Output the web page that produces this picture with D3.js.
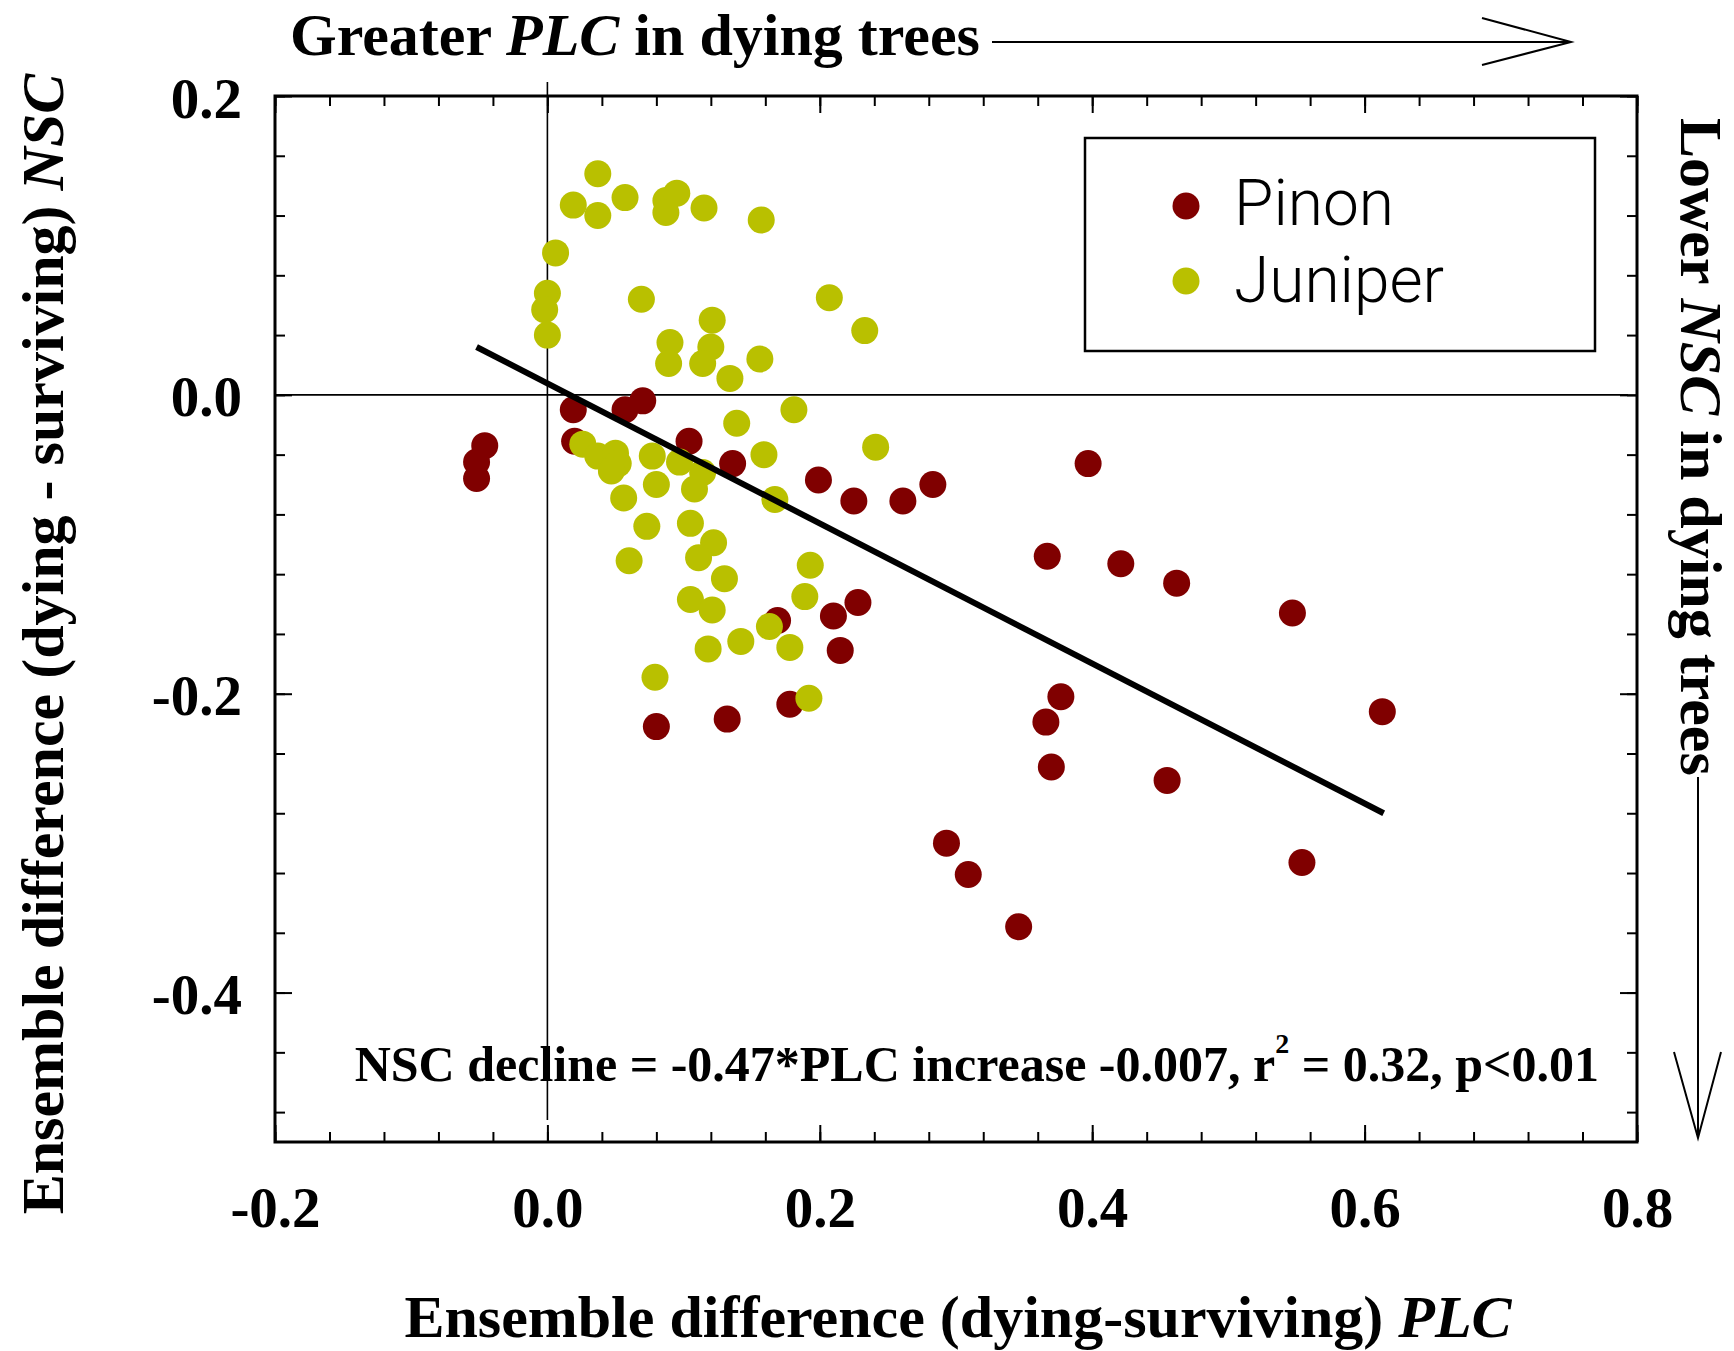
<!DOCTYPE html>
<html>
<head>
<meta charset="utf-8">
<script src="https://cdn.jsdelivr.net/npm/d3@7"></script>
<style>
  body { margin: 0; background: #fff; }
  svg { display: block; }
  .serif { font-family: 'Liberation Serif', 'Times New Roman', serif; font-weight: bold; }
</style>
</head>
<body>
<div id="chart"></div>
<script>
'use strict';

// data
const pinon_x = [-0.046, -0.052, -0.052, 0.019, 0.070, 0.057, 0.020, 0.104, 0.136, 0.199,
                 0.225, 0.261, 0.283, 0.397, 0.367, 0.421, 0.462, 0.547, 0.613, 0.228,
                 0.210, 0.169, 0.215, 0.178, 0.080, 0.132, 0.377, 0.366, 0.370, 0.455,
                 0.293, 0.309, 0.346, 0.554];
const pinon_y = [-0.034, -0.045, -0.056, -0.010, -0.004, -0.010, -0.031, -0.031, -0.046, -0.057,
                 -0.071, -0.071, -0.060, -0.046, -0.108, -0.113, -0.126, -0.146, -0.212, -0.139,
                 -0.148, -0.151, -0.171, -0.207, -0.222, -0.217, -0.202, -0.219, -0.249, -0.258,
                 -0.300, -0.321, -0.356, -0.313];

const juniper_x = [0.037, 0.019, 0.037, 0.057, 0.087, 0.095, 0.087, 0.115, 0.157, 0.006,
                   0.000, -0.002, 0.000, 0.069, 0.121, 0.207, 0.233, 0.090, 0.089, 0.120,
                   0.114, 0.156, 0.134, 0.181, 0.139, 0.241, 0.026, 0.037, 0.050, 0.052,
                   0.047, 0.077, 0.097, 0.114, 0.159, 0.080, 0.108, 0.056, 0.167, 0.073,
                   0.105, 0.060, 0.122, 0.111, 0.193, 0.130, 0.105, 0.121, 0.189, 0.163,
                   0.142, 0.118, 0.178, 0.079, 0.192];
const juniper_y = [0.148, 0.127, 0.120, 0.132, 0.130, 0.135, 0.122, 0.125, 0.117, 0.095,
                   0.068, 0.057, 0.040, 0.064, 0.050, 0.065, 0.043, 0.035, 0.021, 0.032,
                   0.021, 0.024, 0.011, -0.010, -0.019, -0.035, -0.033, -0.041, -0.039, -0.046,
                   -0.051, -0.041, -0.045, -0.052, -0.040, -0.060, -0.063, -0.069, -0.070, -0.088,
                   -0.086, -0.111, -0.099, -0.109, -0.114, -0.123, -0.137, -0.144, -0.135, -0.155,
                   -0.165, -0.170, -0.169, -0.189, -0.203];

// fitted line ends
const fit_x = [-0.052, 0.614];
const fit_y = [0.032, -0.280];

const x_major = [-0.2, 0.0, 0.2, 0.4, 0.6, 0.8];
const y_major = [0.2, 0.0, -0.2, -0.4];
const x_minor = d3.range(-0.2, 0.8001, 0.04);
const y_minor = d3.range(0.2, -0.5, -0.04);

const series = [
    { name: 'Pinon', color: '#800000', xs: pinon_x, ys: pinon_y },
    { name: 'Juniper', color: '#b9c000', xs: juniper_x, ys: juniper_y }
];

const W = 1734, H = 1351;
const plot = { left: 275, right: 1637, top: 96, bottom: 1142 };

const svg = d3.select('#chart').append('svg')
    .attr('width', W)
    .attr('height', H);

const x = d3.scaleLinear().domain([-0.2, 0.8]).range([plot.left, plot.right]);
const y = d3.scaleLinear().domain([-0.5, 0.2]).range([plot.bottom, plot.top]);

const fmt = d => d.toFixed(1);

// ticks drawn inward, domain path replaced by the frame
function draw_ticks(axis, transform){
    const g = svg.append('g').attr('transform', transform).call(axis);
    g.select('.domain').remove();
    g.selectAll('line').attr('stroke', '#000').attr('stroke-width', 2);
    return g;
}

// minor ticks on all four sides
draw_ticks(d3.axisBottom(x).tickValues(x_minor).tickSize(-10).tickFormat(''), `translate(0,${plot.bottom})`);
draw_ticks(d3.axisTop(x).tickValues(x_minor).tickSize(-10).tickFormat(''), `translate(0,${plot.top})`);
draw_ticks(d3.axisLeft(y).tickValues(y_minor).tickSize(-10).tickFormat(''), `translate(${plot.left},0)`);
draw_ticks(d3.axisRight(y).tickValues(y_minor).tickSize(-10).tickFormat(''), `translate(${plot.right},0)`);

// major ticks + labels
const xb = draw_ticks(d3.axisBottom(x).tickValues(x_major).tickSize(-17).tickFormat(fmt), `translate(0,${plot.bottom})`);
xb.selectAll('text')
    .attr('class', 'serif')
    .attr('y', 85).attr('dy', null)
    .attr('font-size', 57).attr('fill', '#000');
draw_ticks(d3.axisTop(x).tickValues(x_major).tickSize(-17).tickFormat(''), `translate(0,${plot.top})`);
const yl = draw_ticks(d3.axisLeft(y).tickValues(y_major).tickSize(-17).tickFormat(fmt), `translate(${plot.left},0)`);
yl.selectAll('text')
    .attr('class', 'serif')
    .attr('x', -33).attr('dy', '0.37em')
    .attr('font-size', 57).attr('fill', '#000');
draw_ticks(d3.axisRight(y).tickValues(y_major).tickSize(-17).tickFormat(''), `translate(${plot.right},0)`);

// zero lines
svg.append('line')
    .attr('x1', x(0)).attr('x2', x(0))
    .attr('y1', plot.top - 14).attr('y2', plot.bottom - 22)
    .attr('stroke', '#000').attr('stroke-width', 1.6);
svg.append('line')
    .attr('x1', plot.left).attr('x2', plot.right - 9)
    .attr('y1', y(0)).attr('y2', y(0))
    .attr('stroke', '#000').attr('stroke-width', 1.6);

// frame
svg.append('rect')
    .attr('x', plot.left).attr('y', plot.top)
    .attr('width', plot.right - plot.left).attr('height', plot.bottom - plot.top)
    .attr('fill', 'none').attr('stroke', '#000').attr('stroke-width', 3);

// points (juniper on top)
series.forEach(s => {
    svg.append('g').selectAll('circle')
        .data(s.xs.map((v, i) => [v, s.ys[i]]))
        .enter()
        .append('circle')
        .attr('cx', d => x(d[0]))
        .attr('cy', d => y(d[1]))
        .attr('r', 13.5)
        .attr('fill', s.color);
});

// regression line
svg.append('line')
    .attr('x1', x(fit_x[0])).attr('y1', y(fit_y[0]))
    .attr('x2', x(fit_x[1])).attr('y2', y(fit_y[1]))
    .attr('stroke', '#000').attr('stroke-width', 6);

// legend
const leg = svg.append('g');
leg.append('rect')
    .attr('x', 1085).attr('y', 138).attr('width', 510).attr('height', 213)
    .attr('fill', '#fff').attr('stroke', '#000').attr('stroke-width', 2.5);
series.forEach((s, i) => {
    leg.append('circle')
        .attr('cx', 1186).attr('cy', 206 + i * 75).attr('r', 13.5)
        .attr('fill', s.color);
    leg.append('text')
        .attr('x', 1234).attr('y', 225 + i * 77)
        .attr('font-family', 'Roboto, Inter, sans-serif')
        .attr('font-weight', 300)
        .attr('font-size', 64)
        .attr('fill', '#000')
        .text(s.name);
});

// equation
const eq = svg.append('text')
    .attr('class', 'serif')
    .attr('x', 1599).attr('y', 1081)
    .attr('text-anchor', 'end')
    .attr('font-size', 50);
eq.append('tspan').text('NSC decline = -0.47*PLC increase -0.007, r');
eq.append('tspan').attr('font-size', 28).attr('dy', -28).text('2');
eq.append('tspan').attr('dy', 28).text(' = 0.32, p<0.01');

// text with an italic middle part
function label(parent, parts){
    parts.forEach(p => {
        parent.append('tspan')
            .attr('font-style', p.it ? 'italic' : 'normal')
            .text(p.t);
    });
}

// top annotation
const top_t = svg.append('text')
    .attr('class', 'serif')
    .attr('x', 290).attr('y', 55)
    .attr('font-size', 60);
label(top_t, [{ t: 'Greater ' }, { t: 'PLC', it: true }, { t: ' in dying trees' }]);

svg.append('line')
    .attr('x1', 992).attr('x2', 1570).attr('y1', 42).attr('y2', 42)
    .attr('stroke', '#000').attr('stroke-width', 2);
svg.append('path')
    .attr('d', 'M1482,18 L1571,42 L1482,65')
    .attr('fill', 'none').attr('stroke', '#000').attr('stroke-width', 2);

// right annotation
const right_t = svg.append('text')
    .attr('class', 'serif')
    .attr('transform', 'translate(1681,118) rotate(90)')
    .attr('font-size', 60);
label(right_t, [{ t: 'Lower ' }, { t: 'NSC', it: true }, { t: ' in dying trees' }]);

svg.append('line')
    .attr('x1', 1698).attr('x2', 1698).attr('y1', 777).attr('y2', 1137)
    .attr('stroke', '#000').attr('stroke-width', 2);
svg.append('path')
    .attr('d', 'M1674,1052 L1698,1138 L1721,1052')
    .attr('fill', 'none').attr('stroke', '#000').attr('stroke-width', 2);

// axis titles
const xt = svg.append('text')
    .attr('class', 'serif')
    .attr('x', 958).attr('y', 1337)
    .attr('text-anchor', 'middle')
    .attr('font-size', 60);
label(xt, [{ t: 'Ensemble difference (dying-surviving) ' }, { t: 'PLC', it: true }]);

const yt = svg.append('text')
    .attr('class', 'serif')
    .attr('transform', 'translate(63,644) rotate(-90)')
    .attr('text-anchor', 'middle')
    .attr('font-size', 60);
label(yt, [{ t: 'Ensemble difference (dying - surviving) ' }, { t: 'NSC', it: true }]);
</script>
</body>
</html>
